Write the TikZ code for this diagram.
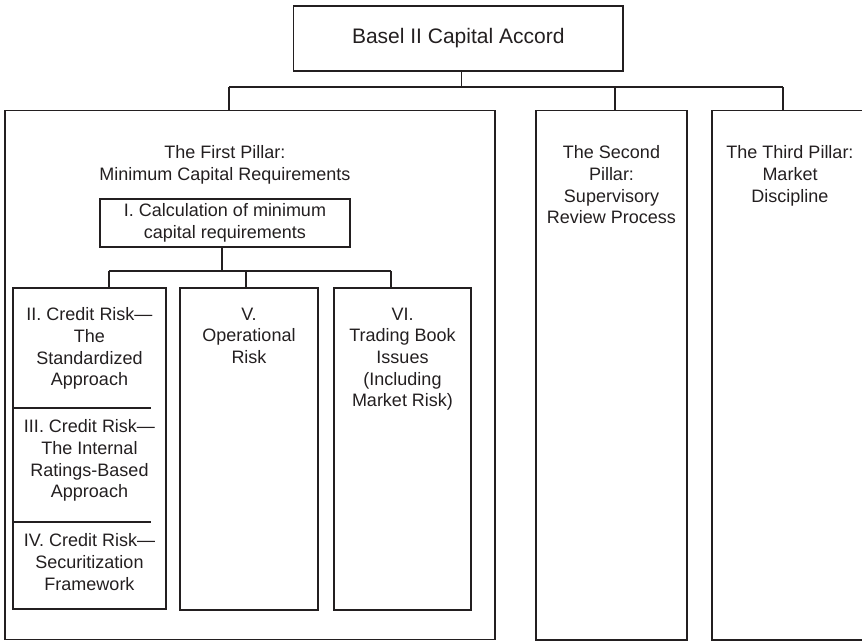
\documentclass[tikz,border=0pt]{standalone}
\usepackage{fontspec}
\setmainfont{Liberation Sans}
\usetikzlibrary{positioning}
\definecolor{ink}{HTML}{231F20}
\tikzset{
  box/.style={draw=ink, line width=1.3pt, inner sep=0pt, rectangle},
  subbox/.style={draw=ink, line width=1.1pt, inner sep=0pt, rectangle},
  link/.style={draw=ink, line width=1.2pt},
  label/.style={text=ink, align=center, inner sep=0pt, anchor=north,
    font=\fontsize{18}{21.7}\selectfont},
  title/.style={text=ink, inner sep=0pt, font=\fontsize{21}{25}\selectfont},
}
\begin{document}
\begin{tikzpicture}[x=1pt, y=-1pt]
\useasboundingbox (0,0) rectangle (862,641);
\begin{scope}
\clip (0,0) rectangle (862,641);

% root of the tree
\node[box, minimum width=329.5pt, minimum height=65pt] (root) at (458.25,38.5) {};
\node[title] (roottext) at (root.center) {Basel II Capital Accord};

% the three pillars
\node[box, minimum width=490pt, minimum height=529pt] (p1) at (250,375) {};
\node[box, minimum width=151pt, minimum height=529.5pt] (p2) at (611.5,375.25) {};
\node[box, minimum width=156pt, minimum height=529.5pt] (p3) at (790,375.25) {};

\node[label] (p1text) at (225,145.5) {The First Pillar:\\Minimum Capital Requirements};
\node[label] (p2text) at (611.5,145.5) {The Second\\Pillar:\\Supervisory\\Review Process};
\node[label] (p3text) at (790,145.5) {The Third Pillar:\\Market\\Discipline};

% bus from the root to the pillars
\coordinate (busA) at (229,87);
\coordinate (busB) at (615,87);
\coordinate (busC) at (783,87);
\draw[link] ([xshift=3.5pt]root.south) -- ([xshift=3.5pt]root.south |- busA);
\draw[link] (busA) -- (busC);
\draw[link] (busA) -- (busA |- p1.north);
\draw[link] (busB) -- (busB |- p2.north);
\draw[link] (busC) -- (busC |- p3.north);

% first pillar: calculation box
\node[subbox, minimum width=250pt, minimum height=48pt] (calc) at (225,223) {};
\node[label, anchor=center] (calctext) at (calc.center) {I. Calculation of minimum\\capital requirements};

% the three risk columns
\node[subbox, minimum width=153pt, minimum height=321pt] (credit) at (89.5,448.5) {};
\node[subbox, minimum width=138pt, minimum height=322pt] (oper) at (249,449) {};
\node[subbox, minimum width=137pt, minimum height=322pt] (trade) at (402.5,449) {};

\coordinate (subA) at (109,271);
\coordinate (subB) at (246,271);
\coordinate (subC) at (391,271);
\draw[link] ([xshift=-3pt]calc.south) -- ([xshift=-3pt]calc.south |- subA);
\draw[link] (subA) -- (subC);
\draw[link] (subA) -- (subA |- credit.north);
\draw[link] (subB) -- (subB |- oper.north);
\draw[link] (subC) -- (subC |- trade.north);

% credit risk column split into three parts
\coordinate (divA) at (151,408);
\coordinate (divB) at (151,522);
\draw[link, line width=1.1pt] (credit.west |- divA) -- (divA);
\draw[link, line width=1.1pt] (credit.west |- divB) -- (divB);

\node[label] (crA) at (89.5,307.5) {II. Credit Risk—\\The\\Standardized\\Approach};
\node[label] (crB) at (89.5,419.5) {III. Credit Risk—\\The Internal\\Ratings-Based\\Approach};
\node[label] (crC) at (89.5,533.5) {IV. Credit Risk—\\Securitization\\Framework};
\node[label] (optext) at (249,307.5) {V.\\Operational\\Risk};
\node[label] (trtext) at (402.5,307.5) {VI.\\Trading Book\\Issues\\(Including\\Market Risk)};
\end{scope}
\end{tikzpicture}
\end{document}
